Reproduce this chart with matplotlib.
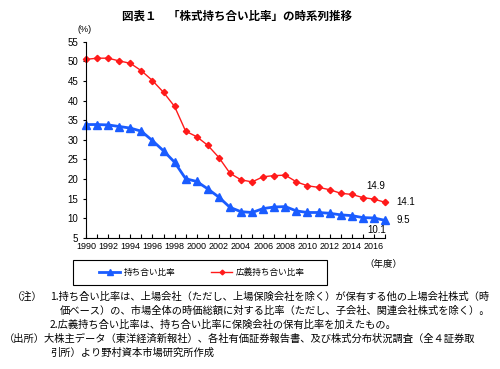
import matplotlib.pyplot as plt
from matplotlib.patches import Rectangle

plt.rcParams['font.family'] = ['Liberation Sans', 'Noto Sans CJK JP', 'DejaVu Sans']

years = list(range(1990, 2018))
mochiai = [33.9, 33.9, 33.8, 33.4, 33.0, 32.2, 29.8, 27.2, 24.3, 20.1,
           19.4, 17.5, 15.4, 12.8, 11.7, 11.5, 12.5, 12.9, 13.0, 11.9,
           11.5, 11.5, 11.3, 10.9, 10.7, 10.2, 10.1, 9.5]
kougi = [50.5, 50.8, 50.8, 50.1, 49.5, 47.6, 45.1, 42.1, 38.5, 32.2,
         30.8, 28.6, 25.5, 21.5, 19.8, 19.3, 20.6, 20.9, 21.0, 19.3,
         18.3, 17.9, 17.3, 16.4, 16.1, 15.3, 14.9, 14.1]
xlabels = [str(y) for y in range(1990, 2017, 2)]
yticks = list(range(5, 60, 5))

fig = plt.figure(figsize=(5, 3.69), dpi=100)
ax = fig.add_axes([0.172, 0.355, 0.598, 0.532])

ax.plot(years, mochiai, color='#1a5cff', lw=2, marker='^', ms=6, label='持ち合い比率', clip_on=False)
ax.plot(years, kougi, color='#ff1a1a', lw=1, marker='D', ms=3.2, label='広義持ち合い比率', clip_on=False)

ax.set_xlim(1990, 2017)
ax.set_ylim(5, 55)
ax.set_yticks(yticks)
ax.set_xticks(years, minor=True)
ax.set_xticks(range(1990, 2017, 2))
ax.set_xticklabels(xlabels)
for s in ['top', 'right']:
    ax.spines[s].set_visible(False)
for s in ['left', 'bottom']:
    ax.spines[s].set_linewidth(0.8)
ax.tick_params(axis='x', which='both', direction='in', length=3, width=0.8, labelsize=6.5, pad=3)
ax.tick_params(axis='y', direction='out', length=2.5, width=0.8, labelsize=7, pad=3)

# end labels
ax.annotate(f'{kougi[-2]}', (years[-2], kougi[-2]), xytext=(1, 7), textcoords='offset points',
            ha='center', fontsize=7)
ax.annotate(f'{kougi[-1]}', (years[-1], kougi[-1]), xytext=(8, 0), textcoords='offset points',
            ha='left', va='center', fontsize=7)
ax.annotate(f'{mochiai[-1]}', (years[-1], mochiai[-1]), xytext=(8, 0), textcoords='offset points',
            ha='left', va='center', fontsize=7)
ax.annotate(f'{mochiai[-2]}', (years[-2], mochiai[-2]), xytext=(2, -5), textcoords='offset points',
            ha='center', va='top', fontsize=7)

fig.text(85 / 500, 1 - 29 / 369, '(%)', fontsize=6.5, ha='center', va='center')
fig.text(383 / 500, 1 - 264 / 369, '（年度）', fontsize=6.8, ha='center', va='center')

# legend box
fig.patches.append(Rectangle((73 / 500, 1 - 285 / 369), 254 / 500, 25 / 369,
                             transform=fig.transFigure, fill=False, lw=0.8, ec='black'))
leg = fig.legend(loc='center', bbox_to_anchor=(202 / 500, 1 - 272.5 / 369), ncol=2,
                 fontsize=6.2, frameon=False, handlelength=2.4, columnspacing=4.2,
                 handletextpad=0.4, markerscale=0.75)

fig.text(237 / 500, 1 - 16 / 369, '図表１　「株式持ち合い比率」の時系列推移', fontsize=8.3,
         fontweight='bold', ha='center', va='center', family=['Noto Sans CJK JP'])

notes = [
    (12, 297, '（注）'),
    (50, 297, '1.持ち合い比率は、上場会社（ただし、上場保険会社を除く）が保有する他の上場会社株式（時'),
    (60, 311, '価ベース）の、市場全体の時価総額に対する比率（ただし、子会社、関連会社株式を除く）。'),
    (50, 325, '2.広義持ち合い比率は、持ち合い比率に保険会社の保有比率を加えたもの。'),
    (4, 339, '（出所）大株主データ（東洋経済新報社）、各社有価証券報告書、及び株式分布状況調査（全４証券取'),
    (50, 353, '引所）より野村資本市場研究所作成'),
]
for x, y, t in notes:
    fig.text(x / 500, 1 - y / 369, t, fontsize=7.4, ha='left', va='center',
             family=['Noto Sans CJK JP'])

fig.savefig('out.png', dpi=100)
